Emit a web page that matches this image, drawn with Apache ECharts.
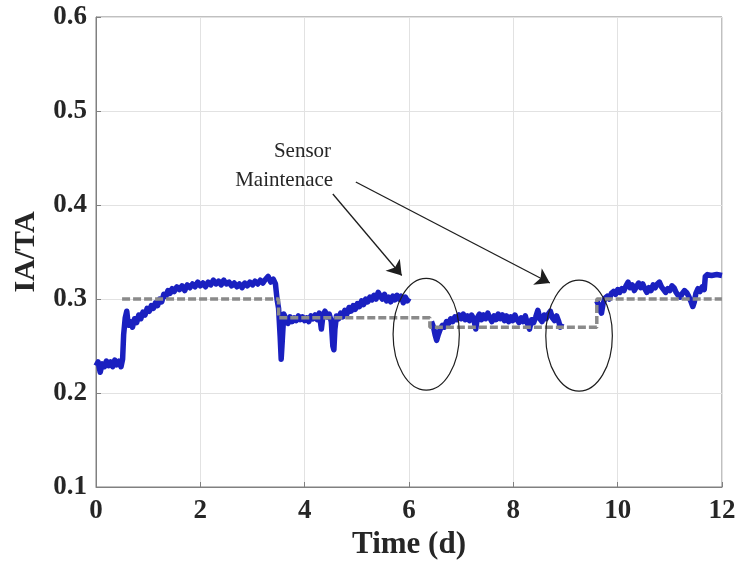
<!DOCTYPE html>
<html>
<head>
<meta charset="utf-8">
<script src="https://cdn.jsdelivr.net/npm/echarts@6/dist/echarts.min.js"></script>
<style>
  html, body { margin: 0; padding: 0; background: #fff; }
  #chart { width: 739px; height: 576px; }
</style>
</head>
<body>
<div id="chart"></div>
<script>
// measured IA/TA, split where the sensor was in maintenance
const measuredA = [[0.00,0.229],[0.04,0.233],[0.08,0.222],[0.12,0.231],[0.16,0.228],[0.20,0.234],[0.24,0.229],[0.28,0.233],[0.32,0.228],[0.36,0.235],[0.40,0.230],[0.44,0.234],[0.48,0.228],[0.51,0.236],[0.53,0.262],[0.56,0.280],[0.59,0.287],[0.62,0.272],[0.66,0.276],[0.70,0.270],[0.74,0.279],[0.78,0.275],[0.82,0.283],[0.86,0.279],[0.90,0.286],[0.94,0.283],[0.98,0.290],[1.02,0.287],[1.06,0.293],[1.10,0.290],[1.14,0.296],[1.18,0.293],[1.22,0.300],[1.26,0.297],[1.30,0.305],[1.34,0.303],[1.38,0.309],[1.42,0.306],[1.46,0.311],[1.50,0.308],[1.55,0.313],[1.60,0.310],[1.65,0.314],[1.70,0.309],[1.75,0.315],[1.80,0.312],[1.85,0.316],[1.90,0.313],[1.95,0.318],[2.00,0.314],[2.05,0.317],[2.10,0.313],[2.15,0.318],[2.20,0.315],[2.25,0.320],[2.30,0.316],[2.35,0.319],[2.40,0.315],[2.45,0.320],[2.50,0.316],[2.55,0.318],[2.60,0.314],[2.65,0.317],[2.70,0.313],[2.75,0.316],[2.80,0.312],[2.85,0.317],[2.90,0.314],[2.95,0.318],[3.00,0.315],[3.05,0.319],[3.10,0.316],[3.15,0.320],[3.20,0.317],[3.25,0.321],[3.30,0.324],[3.35,0.318],[3.40,0.321],[3.44,0.316],[3.47,0.300],[3.50,0.290],[3.53,0.260],[3.55,0.236],[3.57,0.255],[3.60,0.284],[3.64,0.279],[3.68,0.274],[3.72,0.281],[3.76,0.276],[3.80,0.280],[3.84,0.277],[3.88,0.282],[3.92,0.278],[3.96,0.281],[4.00,0.277],[4.04,0.280],[4.08,0.276],[4.12,0.282],[4.16,0.279],[4.20,0.283],[4.24,0.278],[4.28,0.285],[4.32,0.268],[4.35,0.282],[4.39,0.287],[4.43,0.281],[4.47,0.284],[4.51,0.276],[4.54,0.250],[4.56,0.246],[4.58,0.268],[4.61,0.282],[4.65,0.279],[4.69,0.285],[4.73,0.281],[4.77,0.288],[4.81,0.284],[4.85,0.291],[4.89,0.287],[4.93,0.293],[4.97,0.289],[5.01,0.295],[5.05,0.292],[5.09,0.298],[5.13,0.294],[5.17,0.300],[5.21,0.297],[5.25,0.302],[5.29,0.299],[5.33,0.304],[5.37,0.300],[5.41,0.307],[5.45,0.303],[5.49,0.300],[5.53,0.305],[5.57,0.298],[5.61,0.302],[5.65,0.297],[5.69,0.303],[5.73,0.299],[5.77,0.304],[5.81,0.300],[5.85,0.303],[5.89,0.296],[5.93,0.302],[5.97,0.298],[6.00,0.301]];
const measuredB = [[6.43,0.276],[6.47,0.270],[6.50,0.262],[6.53,0.256],[6.56,0.262],[6.60,0.268],[6.64,0.272],[6.68,0.270],[6.72,0.276],[6.76,0.274],[6.80,0.279],[6.84,0.276],[6.88,0.281],[6.92,0.278],[6.96,0.283],[7.00,0.279],[7.04,0.284],[7.08,0.278],[7.12,0.282],[7.16,0.277],[7.20,0.283],[7.24,0.279],[7.28,0.268],[7.31,0.280],[7.35,0.284],[7.39,0.278],[7.43,0.283],[7.47,0.279],[7.51,0.285],[7.55,0.280],[7.59,0.276],[7.63,0.282],[7.67,0.278],[7.71,0.284],[7.75,0.279],[7.79,0.283],[7.83,0.277],[7.87,0.282],[7.91,0.276],[7.95,0.281],[7.99,0.277],[8.03,0.283],[8.07,0.278],[8.11,0.275],[8.15,0.280],[8.19,0.276],[8.23,0.282],[8.27,0.274],[8.31,0.268],[8.35,0.278],[8.39,0.275],[8.43,0.281],[8.47,0.288],[8.51,0.279],[8.55,0.276],[8.59,0.283],[8.63,0.279],[8.67,0.284],[8.71,0.287],[8.75,0.280],[8.79,0.277],[8.83,0.282],[8.87,0.276],[8.90,0.270],[8.93,0.274]];
const measuredC = [[9.60,0.298],[9.63,0.294],[9.66,0.288],[9.69,0.285],[9.72,0.295],[9.76,0.301],[9.80,0.303],[9.84,0.300],[9.88,0.306],[9.92,0.308],[9.96,0.305],[10.00,0.310],[10.04,0.307],[10.08,0.311],[10.12,0.309],[10.16,0.314],[10.20,0.318],[10.24,0.312],[10.28,0.315],[10.32,0.309],[10.36,0.313],[10.40,0.317],[10.44,0.312],[10.48,0.316],[10.52,0.311],[10.56,0.307],[10.60,0.312],[10.64,0.309],[10.68,0.315],[10.72,0.312],[10.76,0.316],[10.80,0.318],[10.84,0.313],[10.88,0.310],[10.92,0.307],[10.96,0.311],[11.00,0.309],[11.04,0.314],[11.08,0.312],[11.12,0.307],[11.16,0.304],[11.20,0.302],[11.24,0.306],[11.28,0.309],[11.32,0.307],[11.36,0.303],[11.40,0.298],[11.44,0.292],[11.47,0.297],[11.50,0.306],[11.54,0.311],[11.58,0.308],[11.62,0.313],[11.66,0.310],[11.68,0.324],[11.72,0.326],[11.80,0.325],[11.90,0.326],[12.00,0.325]];

// setpoint (grey dashed steps)
const setpoint = [[0.5,0.30],[3.5,0.30],[3.5,0.28],[6.4,0.28],[6.4,0.27],[9.6,0.27],[9.6,0.30],[12,0.30]];

// annotation, in data units
const noteLines = ['Sensor', 'Maintenace'];
const notePos = [[4.506,0.4564],[4.545,0.4266]];
const arrows = [[[4.54,0.4117],[5.86,0.325]], [[4.98,0.4245],[8.70,0.317]]];
const ellipses = [[6.33,0.2625,0.635,0.0595],[9.26,0.261,0.638,0.059]];

const xTicks = [0, 12, 2];
const yTicks = [0.1, 0.6, 0.1];

const dom = document.getElementById('chart');
const chart = echarts.init(dom, null, { renderer: 'canvas' });

const serif = '"Liberation Serif", "Times New Roman", serif';
const axisGrey = '#808080';

function measuredSeries(data) {
  return {
    type: 'line',
    data: data,
    showSymbol: false,
    symbol: 'none',
    animation: false,
    lineStyle: { color: '#1a20c0', width: 5.5, join: 'round' },
    z: 3
  };
}

const option = {
  backgroundColor: '#fff',
  animation: false,
  grid: { left: 96, right: 17, top: 17, bottom: 89, show: true, borderColor: axisGrey, borderWidth: 1, backgroundColor: 'transparent' },
  xAxis: {
    type: 'value',
    min: xTicks[0], max: xTicks[1], interval: xTicks[2],
    name: 'Time (d)',
    nameLocation: 'middle',
    nameGap: 42,
    nameTextStyle: { fontFamily: serif, fontWeight: 'bold', fontSize: 31, color: '#262626' },
    axisLine: { lineStyle: { color: axisGrey } },
    axisTick: { inside: true, length: 5, lineStyle: { color: axisGrey } },
    axisLabel: { margin: 11, fontFamily: serif, fontWeight: 'bold', fontSize: 27, color: '#262626' },
    splitLine: { show: true, lineStyle: { color: '#e2e2e2' } }
  },
  yAxis: {
    type: 'value',
    min: yTicks[0], max: yTicks[1], interval: yTicks[2],
    name: 'IA/TA',
    nameLocation: 'middle',
    nameGap: 55,
    nameTextStyle: { fontFamily: serif, fontWeight: 'bold', fontSize: 30, color: '#262626' },
    axisLine: { show: true, lineStyle: { color: axisGrey } },
    axisTick: { show: true, inside: true, length: 5, lineStyle: { color: axisGrey } },
    axisLabel: { margin: 9, fontFamily: serif, fontWeight: 'bold', fontSize: 27, color: '#262626',
      formatter: v => v.toFixed(1) },
    splitLine: { show: true, lineStyle: { color: '#e2e2e2' } }
  },
  series: [
    {
      type: 'line',
      data: setpoint,
      showSymbol: false,
      symbol: 'none',
      lineStyle: { color: '#8a8a8a', width: 3.5, type: [8, 3] },
      z: 4
    },
    measuredSeries(measuredA),
    measuredSeries(measuredB),
    measuredSeries(measuredC),
    {
      type: 'lines',
      coordinateSystem: 'cartesian2d',
      data: arrows.map(a => ({ coords: a })),
      symbol: ['none', 'arrow'],
      symbolSize: 14,
      lineStyle: { color: '#1e1e1e', width: 1.3, opacity: 1 },
      z: 6
    }
  ]
};

chart.setOption(option);

// circles and text are placed from data units once the scales exist
function placeNotes() {
  const toPx = p => chart.convertToPixel({ gridIndex: 0 }, p);
  const shapes = ellipses.map(e => {
    const c = toPx([e[0], e[1]]);
    const rx = toPx([e[0] + e[2], e[1]])[0] - c[0];
    const ry = c[1] - toPx([e[0], e[1] + e[3]])[1];
    return {
      type: 'ellipse',
      shape: { cx: c[0], cy: c[1], rx: rx, ry: ry },
      style: { fill: 'none', stroke: '#1e1e1e', lineWidth: 1.2 },
      z: 7
    };
  });
  const texts = noteLines.map((t, i) => {
    const p = toPx(notePos[i]);
    return {
      type: 'text',
      x: p[0], y: p[1],
      style: { text: t, align: 'right', verticalAlign: 'middle', fontFamily: serif, fontSize: 21, fill: '#262626' },
      z: 7
    };
  });
  chart.setOption({ graphic: shapes.concat(texts) });
}
placeNotes();
</script>
</body>
</html>
